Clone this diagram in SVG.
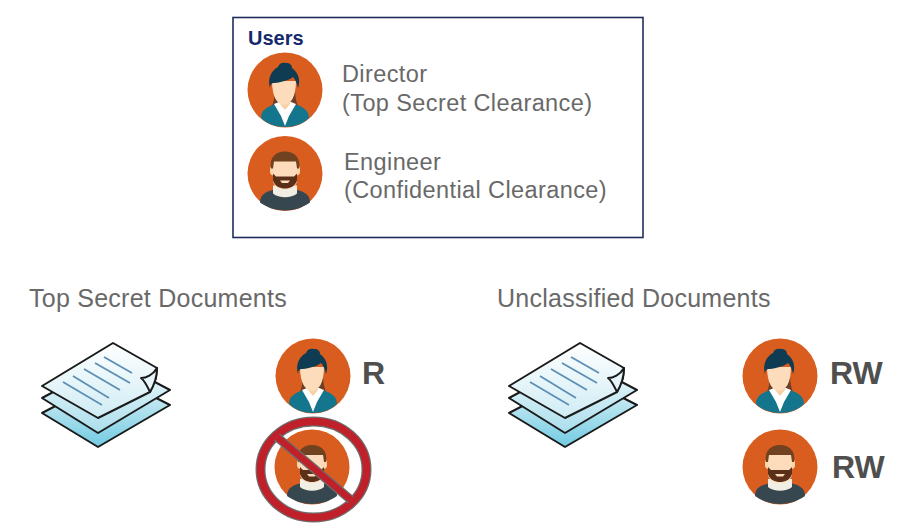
<svg xmlns="http://www.w3.org/2000/svg" width="904" height="530" viewBox="0 0 904 530">
<style>
text{font-family:"Liberation Sans",Arial,sans-serif;fill:#696969}
.t{font-size:23.500px;letter-spacing:.4px}
.h{font-size:25px;letter-spacing:.25px}
.p{font-size:32px;font-weight:700;fill:#4f4f4f}
.sheet{stroke:#1a1a1a;stroke-width:2;stroke-linejoin:round}
.ln{stroke:#5d8fb5;stroke-width:1.800;fill:none}
</style>
<defs>
<linearGradient id="g1" x1="0" y1="0" x2="0" y2="1"><stop offset="0" stop-color="#eaf6fa"/><stop offset="1" stop-color="#72cbe2"/></linearGradient>
<linearGradient id="g2" x1="0" y1="0" x2="0" y2="1"><stop offset="0" stop-color="#f2fafc"/><stop offset="1" stop-color="#aadeec"/></linearGradient>
<linearGradient id="g3" x1="0" y1="0" x2="0" y2="1"><stop offset="0" stop-color="#ffffff"/><stop offset="1" stop-color="#cfecf4"/></linearGradient>
<g id="director">
<circle r="37.500" fill="#d95d1f"/>
<path d="M-10 -2 C-10 8 -12 15 -15 20 L15 20 C12 15 10 8 10 -2Z" fill="#6b3f28"/>
<path d="M-24 28 C-24 20 -18 17 -10 14 L0 20 L10 14 C18 17 24 20 24 28 C18 34 9 37 0 37 C-9 37 -18 34 -24 28Z" fill="#14768c"/>
<path d="M-11 14 L-6 12 L6 12 L11 14 L4 26 L0 36 L-4 26Z" fill="#ffffff"/>
<path d="M-5 8 L5 8 L5 14 L0 20 L-5 14Z" fill="#f9cfa6"/>
<path d="M-13 -9 L11 -9 C11 6 6 15 -1 15 C-8 15 -13 6 -13 -9Z" fill="#fddcbc"/>
<path d="M-15 -2 C-18 -12 -13 -20 -7 -23 C-6 -27 -2 -28 1 -27 C5 -27 7 -25 7 -22 C13 -18 16 -10 13 -2 C12 -6 11 -10 8 -13 C3 -9 -8 -7 -12 -7 C-14 -6 -15 -5 -15 -2Z" fill="#0f3c52"/>
</g>
<g id="engineer">
<circle r="37.500" fill="#d95d1f"/>
<path d="M-25 29 C-25 20 -18 18 -10 16 L10 16 C18 18 25 20 25 29 C18 34 9 37 0 37 C-9 37 -18 34 -25 29Z" fill="#37474f"/>
<path d="M-12 12 L12 12 L12 20 C6 25 -6 25 -12 20Z" fill="#f1efe4"/>
<rect x="-15" y="-8" width="30" height="10" rx="4" fill="#fbd5ae"/>
<path d="M-12 -16 L12 -16 L12 6 C12 13 6 16 0 16 C-6 16 -12 13 -12 6Z" fill="#fddcbc"/>
<path d="M-12 0 L-9 3 L9 3 L12 0 L12 7 C10 13 5 15 0 15 C-5 15 -10 13 -12 7Z" fill="#5a3018"/>
<path d="M-5 7 L5 7 L3 9.500 L-3 9.500Z" fill="#fddcbc"/>
<path d="M-14 -5 C-16 -15 -10 -22 0 -22 C10 -22 16 -15 14 -5 L12 -5 L11 -12 L-11 -12 L-12 -5Z" fill="#70421f"/>
</g>
<g id="docs">
<path class="sheet" fill="url(#g1)" d="M42 413 L113 376 L170 405 L98 447Z"/>
<path class="sheet" fill="url(#g2)" d="M42 398 L113 360 L170 390 L98 433Z"/>
<path class="sheet" fill="url(#g3)" d="M42 386 L113 343 L157 368 L156 378 L150 392 L98 418Z"/>
<path class="sheet" fill="#e6f5f9" d="M141 378 C146 378 153 375 157 368 C157 378 153 387 150 392 C147 386 145 381 141 378Z"/>
<path class="ln" d="M104 357 L132 373M95 363 L130 383M84 369 L120 390M73 376 L109 398M63 382 L102 405"/>
</g>
</defs>

<g id="users">
<rect x="233" y="17.500" width="410" height="220" fill="#ffffff" stroke="#1f2d5c" stroke-width="1.600"/>
<text x="248" y="45" style="font-size:20px;font-weight:700;fill:#14296b">Users</text>
</g>
<g id="director-user">
<use href="#director" x="285" y="90"/>
<text class="t" x="342" y="82">Director</text>
<text class="t" x="342" y="110.500">(Top Secret Clearance)</text>
</g>
<g id="engineer-user">
<use href="#engineer" x="285" y="173.500"/>
<text class="t" x="344" y="169.500">Engineer</text>
<text class="t" x="344" y="198">(Confidential Clearance)</text>
</g>

<g id="top-secret">
<text class="h" x="29" y="307">Top Secret Documents</text>
<use href="#docs"/>
</g>
<g id="ts-director">
<use href="#director" x="313" y="376"/>
<text class="p" x="362" y="384">R</text>
</g>
<g id="ts-engineer">
<use href="#engineer" x="312" y="467"/>
<ellipse cx="313.500" cy="469.500" rx="53" ry="48" fill="none" stroke="#6d6d6d" stroke-width="10"/>
<ellipse cx="313.500" cy="469.500" rx="53" ry="48" fill="none" stroke="#c0202a" stroke-width="7.500"/>
<line x1="277" y1="437" x2="351" y2="500" stroke="#6d6d6d" stroke-width="9"/>
<line x1="277" y1="437" x2="351" y2="500" stroke="#c0202a" stroke-width="6.500"/>
</g>

<g id="unclassified">
<text class="h" x="497" y="307">Unclassified Documents</text>
<use href="#docs" x="467"/>
</g>
<g id="un-director">
<use href="#director" x="780" y="376"/>
<text class="p" x="830" y="384">RW</text>
</g>
<g id="un-engineer">
<use href="#engineer" x="780" y="467"/>
<text class="p" x="832" y="478">RW</text>
</g>
<g id="connectors"></g>
</svg>
